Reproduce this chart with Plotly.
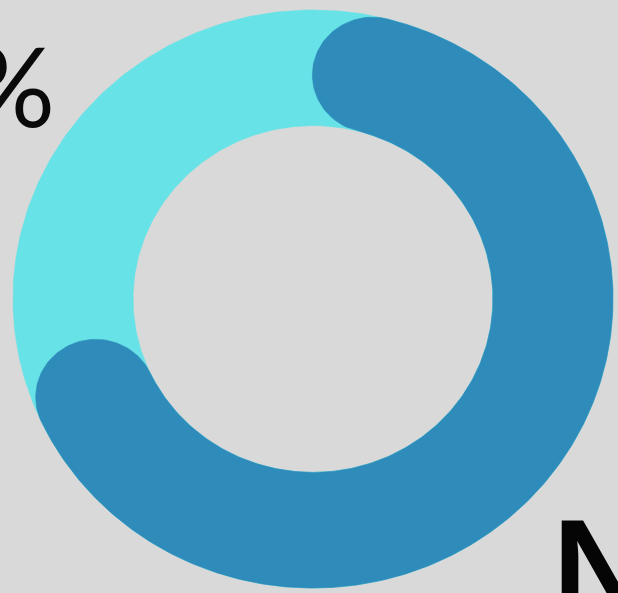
import numpy as np
import plotly.graph_objects as go

# Data
segments = ["Dark share", "Remainder"]
values = [72, 28]           # percent of the ring (dark drawn with rounded ends)
labels_text = ["%", "N"]

# Style / geometry constants
W, H = 618, 593
BG = "#d9d9d9"
DARK = "#2e8bba"
LIGHT = "#67e2e6"
R_OUT, R_IN = 1.0, 0.6
CX_PX, CY_PX = 313, 299
SX, SY = 300, 289  # pixels per unit (x, y)

def pt(theta, r):
    return r * np.sin(theta), r * np.cos(theta)

fig = go.Figure()

# Track ring (full circle = 100%)
total = sum(values)
n = 400
for half in (0, 1):
    a = np.linspace(half * np.pi, (half + 1) * np.pi, n // 2)
    xo, yo = pt(a, R_OUT)
    xi, yi = pt(a[::-1], R_IN)
    fig.add_trace(go.Scatter(x=np.r_[xo, xi], y=np.r_[yo, yi], fill="toself",
                             fillcolor=LIGHT, line=dict(width=0.6, color=LIGHT),
                             mode="lines", hoverinfo="skip", showlegend=False))

# Dark arc with rounded caps
frac = values[0] / total
theta0, theta1 = 0.0, frac * 2 * np.pi
c = (R_OUT - R_IN) / 2
m = (R_OUT + R_IN) / 2
ta, tb = theta0 + c / m, theta1 - c / m
arc = np.linspace(ta, tb, 300)
xo, yo = pt(arc, R_OUT)
ub = np.array([np.sin(tb), np.cos(tb)]); tvb = np.array([np.cos(tb), -np.sin(tb)])
Cb = m * ub
phi = np.linspace(0, np.pi, 60)
cap_end = Cb[:, None] + c * (np.cos(phi)[None, :] * ub[:, None] + np.sin(phi)[None, :] * tvb[:, None])
xi, yi = pt(arc[::-1], R_IN)
ua = np.array([np.sin(ta), np.cos(ta)]); tva = np.array([np.cos(ta), -np.sin(ta)])
Ca = m * ua
phi2 = np.linspace(np.pi, 0, 60)
cap_start = Ca[:, None] + c * (np.cos(phi2)[None, :] * ua[:, None] - np.sin(phi2)[None, :] * tva[:, None])
X = np.r_[xo, cap_end[0], xi, cap_start[0]]
Y = np.r_[yo, cap_end[1], yi, cap_start[1]]
fig.add_trace(go.Scatter(x=X, y=Y, fill="toself", fillcolor=DARK,
                         line=dict(width=0.6, color=DARK), mode="lines",
                         hoverinfo="skip", showlegend=False, name=segments[0]))

xr = [-CX_PX / SX, (W - CX_PX) / SX]
yr = [-(H - CY_PX) / SY, CY_PX / SY]

fig.update_layout(
    width=W, height=H, margin=dict(l=0, r=0, t=0, b=0),
    paper_bgcolor=BG, plot_bgcolor=BG,
    xaxis=dict(range=xr, visible=False, fixedrange=True),
    yaxis=dict(range=yr, visible=False, fixedrange=True),
    showlegend=False,
)

fig.add_annotation(text=labels_text[0], xref="paper", yref="paper",
                   x=57 / W, y=1 - 84 / H, xanchor="right", yanchor="middle",
                   showarrow=False, font=dict(family="Lato", size=110, color="#0a0a0a"))
fig.add_annotation(text="<b>" + labels_text[1] + "</b>", xref="paper", yref="paper",
                   x=551 / W, y=1 - 490 / H, xanchor="left", yanchor="top",
                   showarrow=False, font=dict(family="Liberation Sans", size=130, color="#050505"))

fig.write_html("out.html", config={"displayModeBar": False},
               post_script="document.body.style.margin='0';document.body.style.background='%s';" % BG)
